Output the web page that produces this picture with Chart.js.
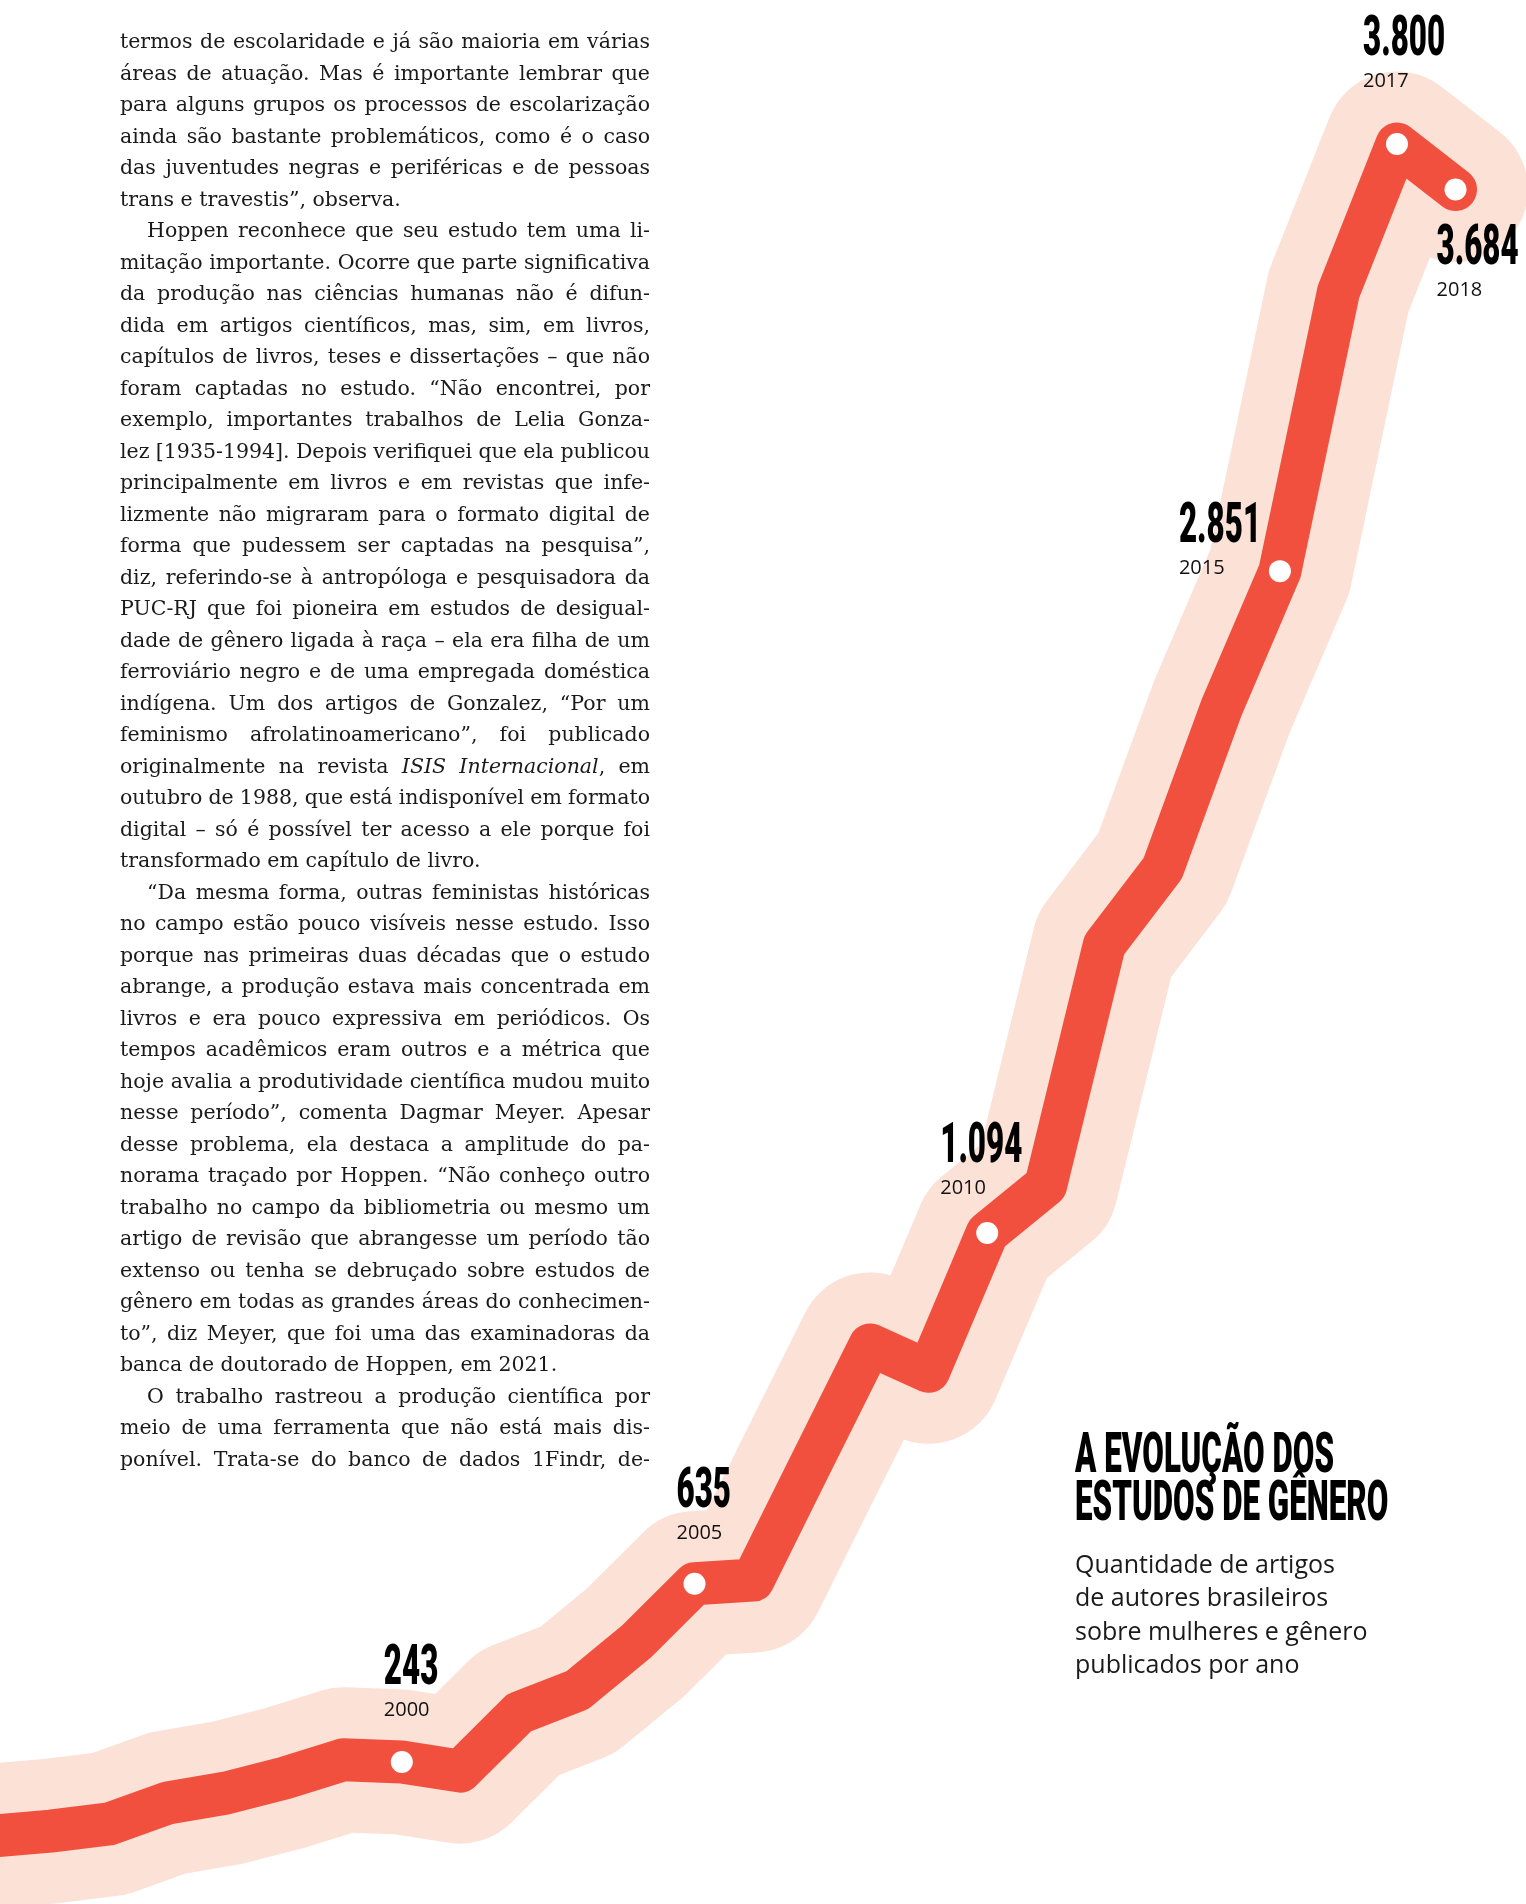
<!DOCTYPE html>
<html lang="pt-BR">
<head>
<meta charset="utf-8">
<title>A evolução dos estudos de gênero</title>
<script src="https://cdn.jsdelivr.net/npm/chart.js@4.4.1/dist/chart.umd.min.js"></script>
<style>
  html, body { margin: 0; padding: 0; background: #fff; }
  body { width: 1526px; height: 1904px; position: relative; overflow: hidden; }
  #chartBox { position: absolute; left: 0; top: 0; width: 1526px; height: 1904px; }
  #texto {
    position: absolute; left: 120px; top: 26px; width: 530px;
    font-family: "DejaVu Serif", serif; font-size: 20.5px; line-height: 31.5px;
    color: #1a1a1a;
  }
  #texto .l { white-space: nowrap; }
  #texto .ind { padding-left: 27px; }
  #titulo {
    position: absolute; left: 1075px; top: 1429px;
    font-family: Roboto, sans-serif; font-weight: 900; font-size: 56px; line-height: 48px;
    color: #000;
  }
  #titulo span { display: inline-block; transform: scaleX(0.56); transform-origin: 0 0; white-space: nowrap; }
  #subtitulo {
    position: absolute; left: 1075px; top: 1547px;
    font-family: "Open Sans", sans-serif; font-size: 25px; line-height: 33.3px;
    color: #1a1a1a;
  }
</style>
</head>
<body>
<div id="chartBox"><canvas id="evolucaoChart"></canvas></div>
<div id="texto"></div>
<div id="titulo"><span>A EVOLUÇÃO DOS</span><br><span>ESTUDOS DE GÊNERO</span></div>
<div id="subtitulo">Quantidade de artigos<br>de autores brasileiros<br>sobre mulheres e gênero<br>publicados por ano</div>

<script>
// Dados (artigos por ano)
const anos = [1992, 1993, 1994, 1995, 1996, 1997, 1998, 1999, 2000, 2001, 2002, 2003, 2004, 2005,
              2006, 2007, 2008, 2009, 2010, 2011, 2012, 2013, 2014, 2015, 2016, 2017, 2018];
const artigos = [60, 80, 91, 107, 153, 175, 208, 248, 243, 223, 351, 401, 507, 635,
                 643, 902, 1160, 1102, 1406, 1511, 2039, 2208, 2560, 2861, 3475, 3800, 3700];

// Anos destacados e os números impressos ao lado deles
const anosDestaque = [2000, 2005, 2010, 2015, 2017, 2018];
const rotulosValor = ['243', '635', '1.094', '2.851', '3.800', '3.684'];

// posição de cada rótulo em relação ao ponto (esquerda, linha de base)
const deslocRotulo = [[-18, -78], [-18, -77], [-47, -71], [-101, -29], [-34, -89], [-19, 74]];

// Texto da coluna ao lado
const linhasTexto = [
  'termos de escolaridade e já são maioria em várias',
  'áreas de atuação. Mas é importante lembrar que',
  'para alguns grupos os processos de escolarização',
  'ainda são bastante problemáticos, como é o caso',
  'das juventudes negras e periféricas e de pessoas',
  '$trans e travestis”, observa.',
  '>Hoppen reconhece que seu estudo tem uma li-',
  'mitação importante. Ocorre que parte significativa',
  'da produção nas ciências humanas não é difun-',
  'dida em artigos científicos, mas, sim, em livros,',
  'capítulos de livros, teses e dissertações – que não',
  'foram captadas no estudo. “Não encontrei, por',
  'exemplo, importantes trabalhos de Lelia Gonza-',
  'lez [1935-1994]. Depois verifiquei que ela publicou',
  'principalmente em livros e em revistas que infe-',
  'lizmente não migraram para o formato digital de',
  'forma que pudessem ser captadas na pesquisa”,',
  'diz, referindo-se à antropóloga e pesquisadora da',
  'PUC-RJ que foi pioneira em estudos de desigual-',
  'dade de gênero ligada à raça – ela era filha de um',
  'ferroviário negro e de uma empregada doméstica',
  'indígena. Um dos artigos de Gonzalez, “Por um',
  'feminismo afrolatinoamericano”, foi publicado',
  'originalmente na revista <i>ISIS Internacional</i>, em',
  'outubro de 1988, que está indisponível em formato',
  'digital – só é possível ter acesso a ele porque foi',
  '$transformado em capítulo de livro.',
  '>“Da mesma forma, outras feministas históricas',
  'no campo estão pouco visíveis nesse estudo. Isso',
  'porque nas primeiras duas décadas que o estudo',
  'abrange, a produção estava mais concentrada em',
  'livros e era pouco expressiva em periódicos. Os',
  'tempos acadêmicos eram outros e a métrica que',
  'hoje avalia a produtividade científica mudou muito',
  'nesse período”, comenta Dagmar Meyer. Apesar',
  'desse problema, ela destaca a amplitude do pa-',
  'norama traçado por Hoppen. “Não conheço outro',
  'trabalho no campo da bibliometria ou mesmo um',
  'artigo de revisão que abrangesse um período tão',
  'extenso ou tenha se debruçado sobre estudos de',
  'gênero em todas as grandes áreas do conhecimen-',
  'to”, diz Meyer, que foi uma das examinadoras da',
  '$banca de doutorado de Hoppen, em 2021.',
  '>O trabalho rastreou a produção científica por',
  'meio de uma ferramenta que não está mais dis-',
  'ponível. Trata-se do banco de dados 1Findr, de-'
];

// monta a coluna de texto justificada linha a linha
const colWidth = 530;
const texto = document.getElementById('texto');
linhasTexto.forEach(linha => {
  const div = document.createElement('div');
  div.className = 'l';
  let conteudo = linha;
  let fim = false;
  if (conteudo.startsWith('>')) { div.classList.add('ind'); conteudo = conteudo.slice(1); }
  if (conteudo.startsWith('$')) { fim = true; conteudo = conteudo.slice(1); }
  const span = document.createElement('span');
  span.innerHTML = conteudo;
  div.appendChild(span);
  texto.appendChild(div);
  if (!fim) {
    const disponivel = colWidth - (div.classList.contains('ind') ? 27 : 0);
    const largura = span.getBoundingClientRect().width;
    const espacos = (span.textContent.match(/ /g) || []).length;
    if (espacos) span.style.wordSpacing = ((disponivel - largura) / espacos) + 'px';
  }
});

// Rótulos: número grande condensado + ano
const rotulosPlugin = {
  id: 'rotulos',
  afterDatasetsDraw(chart) {
    const ctx = chart.ctx;
    const meta = chart.getDatasetMeta(0);
    anosDestaque.forEach((ano, i) => {
      const pt = meta.data[anos.indexOf(ano)];
      const x = pt.x + deslocRotulo[i][0];
      const y = pt.y + deslocRotulo[i][1];
      ctx.save();
      ctx.fillStyle = '#000';
      ctx.textAlign = 'left';
      ctx.textBaseline = 'alphabetic';
      ctx.translate(x, y);
      ctx.scale(0.56, 1);
      ctx.font = '900 56px Roboto';
      ctx.fillText(rotulosValor[i], 0, 0);
      ctx.restore();

      ctx.save();
      ctx.fillStyle = '#111';
      ctx.textAlign = 'left';
      ctx.textBaseline = 'alphabetic';
      ctx.font = '400 20px "Open Sans"';
      ctx.fillText(String(ano), x, y + 32);
      ctx.restore();
    });
  }
};

const pontos = anos.map(a => anosDestaque.includes(a) ? 11 : 0);

new Chart(document.getElementById('evolucaoChart'), {
  type: 'line',
  data: {
    datasets: [{
      label: 'Artigos',
      data: anos.map((a, i) => ({ x: a, y: artigos[i] })),
      borderColor: '#f1503e',
      borderWidth: 43,
      borderJoinStyle: 'round',
      borderCapStyle: 'round',
      tension: 0,
      pointRadius: pontos,
      pointHoverRadius: pontos,
      pointBackgroundColor: '#ffffff',
      pointBorderWidth: 0,
      fill: false
    }, {
      label: 'Halo',
      data: anos.map((a, i) => ({ x: a, y: artigos[i] })),
      borderColor: '#fce1d7',
      borderWidth: 145,
      borderJoinStyle: 'round',
      borderCapStyle: 'round',
      tension: 0,
      pointRadius: 0,
      fill: false
    }]
  },
  options: {
    responsive: true,
    maintainAspectRatio: false,
    animation: false,
    events: [],
    layout: { padding: 0, autoPadding: false },
    plugins: { legend: { display: false }, tooltip: { enabled: false } },
    scales: {
      x: { type: 'linear', display: false, min: 1993.136, max: 2019.204 },
      y: { type: 'linear', display: false, min: -69.1, max: 4116.6 }
    }
  },
  plugins: [rotulosPlugin]
});
</script>
</body>
</html>
